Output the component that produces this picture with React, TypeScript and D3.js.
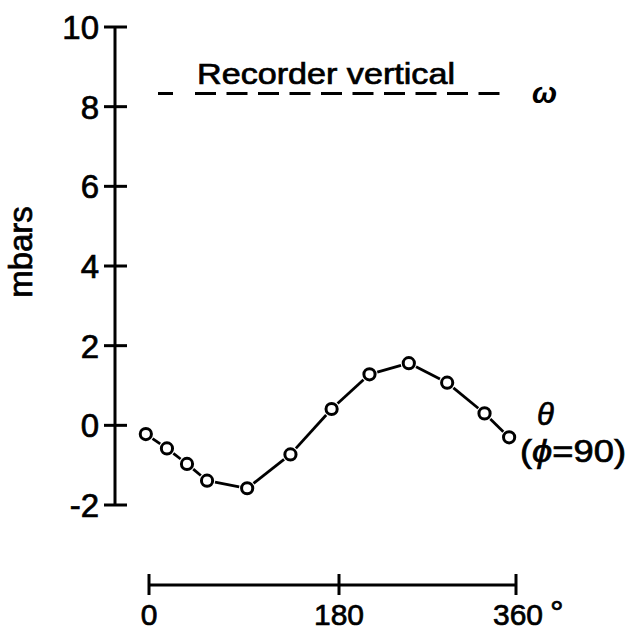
import React from "react";
import * as d3 from "d3";

// Phase angle (degrees) of each reading
const angles = [-3, 17, 36, 55, 93, 134, 173, 211, 251, 290, 328, 353];
// Pressure amplitude θ (mbars) at each angle
const thetaValues = [-0.22, -0.58, -0.97, -1.39, -1.58, -0.73, 0.41, 1.28, 1.56, 1.07, 0.3, -0.3];
// Recorder-vertical level ω (mbars)
const recorderLevel = 8.33;
const yTicks = [-2, 0, 2, 4, 6, 8, 10];
const xTicks = [0, 180, 360];

const W = 629;
const H = 631;
const FONT = "'Liberation Sans', Arial, sans-serif";
const INK = "#000";

export default function App() {
  const y = d3.scaleLinear().domain([-2, 10]).range([505, 27]);
  // hand-ruled phase axis: the two halves are not quite equal in length
  const x = d3.scaleLinear().domain([0, 180, 360]).range([149, 339, 516]);
  const axisX = 115;
  const xAxisY = 585;
  const r = 5.6;

  const pts = angles.map((a, i) => [x(a), y(thetaValues[i])] as [number, number]);
  // connecting segments stop short of each open circle
  const gap = r + 2.5;
  const segs = pts.slice(1).map((p, i) => {
    const q = pts[i];
    const dx = p[0] - q[0];
    const dy = p[1] - q[1];
    const len = Math.hypot(dx, dy);
    const ux = dx / len;
    const uy = dy / len;
    return {
      x1: q[0] + ux * gap,
      y1: q[1] + uy * gap,
      x2: p[0] - ux * gap,
      y2: p[1] - uy * gap,
      ok: len > 2 * gap + 1,
    };
  });
  const ry = y(recorderLevel);

  const textStroke = { stroke: INK, strokeWidth: 0.7 };

  return (
    <svg
      width={W}
      height={H}
      viewBox={`0 0 ${W} ${H}`}
      style={{ position: "absolute", left: 0, top: 0, background: "#fff" }}
      fontFamily={FONT}
    >
      <rect width={W} height={H} fill="#fff" />

      {/* y axis */}
      <line x1={axisX} x2={axisX} y1={y(10)} y2={y(-2)} stroke={INK} strokeWidth={3} />
      {yTicks.map((t) => (
        <g key={t}>
          <line x1={axisX - 11} x2={axisX + 12} y1={y(t)} y2={y(t)} stroke={INK} strokeWidth={3} />
          <text x={99} y={y(t)} dy="0.36em" textAnchor="end" fontSize={33} fill={INK} {...textStroke}>
            {t < 0 ? `-${Math.abs(t)}` : t}
          </text>
        </g>
      ))}
      <text
        transform={`translate(32,252) rotate(-90)`}
        textAnchor="middle"
        fontSize={33}
        fill={INK}
        {...textStroke}
      >
        mbars
      </text>

      {/* x axis */}
      <line x1={x(0)} x2={x(360)} y1={xAxisY} y2={xAxisY} stroke={INK} strokeWidth={3} />
      {xTicks.map((t) => (
        <g key={t}>
          <line x1={x(t)} x2={x(t)} y1={xAxisY - 11} y2={xAxisY + 10} stroke={INK} strokeWidth={3} />
          <text x={x(t) + (t === 360 ? 2 : 0)} y={625} textAnchor="middle" fontSize={30} fill={INK} {...textStroke}>
            {t}
          </text>
        </g>
      ))}
      <text x={x(360) + 34} y={624} fontSize={34} fill={INK} {...textStroke}>
        °
      </text>

      {/* recorder vertical reference */}
      <line x1={158} x2={173} y1={ry} y2={ry} stroke={INK} strokeWidth={3} />
      <line
        x1={195}
        x2={500}
        y1={ry}
        y2={ry}
        stroke={INK}
        strokeWidth={3}
        strokeDasharray="21 10.5"
      />
      <text
        x={197}
        y={84}
        fontSize={29}
        fill={INK}
        textLength={258}
        lengthAdjust="spacingAndGlyphs"
        {...textStroke}
      >
        Recorder vertical
      </text>
      <text x={532} y={103} fontSize={30} fontStyle="italic" fontWeight="bold" fill={INK}>
        ω
      </text>

      {/* θ series */}
      {segs.map((s, i) =>
        s.ok ? (
          <line key={i} x1={s.x1} y1={s.y1} x2={s.x2} y2={s.y2} stroke={INK} strokeWidth={2.8} />
        ) : null
      )}
      {pts.map(([px, py], i) => (
        <circle key={i} cx={px} cy={py} r={r} fill="#fff" stroke={INK} strokeWidth={3} />
      ))}
      <text x={537} y={425} fontSize={31} fontStyle="italic" fill={INK} {...textStroke}>
        θ
      </text>
      <text
        x={520}
        y={462}
        fontSize={31}
        fill={INK}
        textLength={106}
        lengthAdjust="spacingAndGlyphs"
        {...textStroke}
      >
        (<tspan fontStyle="italic">ϕ</tspan>=90)
      </text>
    </svg>
  );
}
